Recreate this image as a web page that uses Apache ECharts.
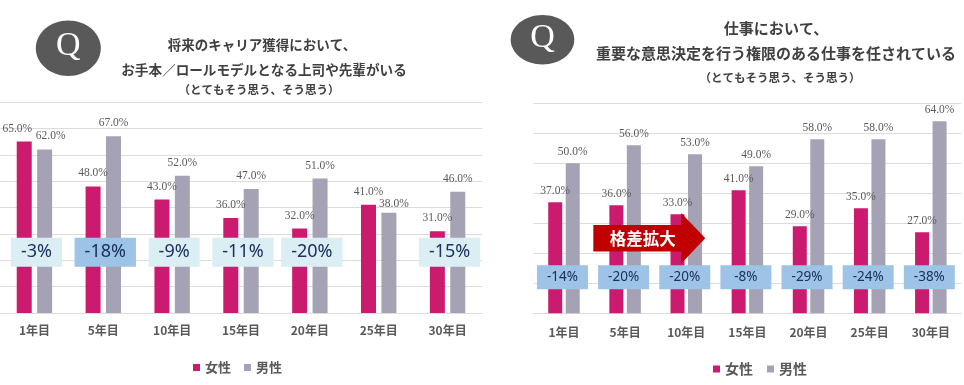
<!DOCTYPE html>
<html><head><meta charset="utf-8">
<script src="https://cdn.jsdelivr.net/npm/echarts@6/dist/echarts.min.js"></script>
<style>html,body{margin:0;padding:0;background:#fff}#c{width:964px;height:385px}</style>
</head><body><div id="c"></div>
<script>
// ---- data ----
const categories = ['1年目','5年目','10年目','15年目','20年目','25年目','30年目'];
const seriesNames = ['女性','男性'];
const leftFemale = [65,48,43,36,32,41,31];
const leftMale   = [62,67,52,47,51,38,46];
const leftGap    = ['-3%','-18%','-9%','-11%','-20%',null,'-15%'];
const rightFemale = [37,36,33,41,29,35,27];
const rightMale   = [50,56,53,49,58,58,64];
const rightGap    = ['-14%','-20%','-20%','-8%','-29%','-24%','-38%'];
const leftTicks  = [0,10,20,30,40,50,60,70,80];
const rightTicks = [0,10,20,30,40,50,60,70];
const leftTitle  = ['将来のキャリア獲得において、','お手本／ロールモデルとなる上司や先輩がいる','（とてもそう思う、そう思う）'];
const rightTitle = ['仕事において、','重要な意思決定を行う権限のある仕事を任されている','（とてもそう思う、そう思う）'];
const arrowText = '格差拡大';
const leftBadgeLevel = 23;
const rightBadgeLevel = 12;
const arrowLevel = 25;

// ---- styles ----
const FEMALE = '#CB1B6F', MALE = '#A6A2B6';
const GRID_LINE = '#DCDCDC';
const CJK = '"Noto Sans CJK JP","Noto Sans",sans-serif';
const SERIF = '"Liberation Serif","DejaVu Serif",serif';
const labelOffsets = { lf: {0:[-7,0]}, lm: {0:[6,0], 5:[5,4]}, rf:{}, rm:{} };

function withOffsets(arr, key){
  return arr.map((v,i)=> labelOffsets[key][i] ? {value:v, label:{offset:labelOffsets[key][i]}} : v);
}
function valueLabel(dist){
  return {show:true, position:'top', distance:dist, color:'#595959',
    fontFamily:SERIF, fontSize:11.5, formatter:p=>p.value.toFixed(1)+'%'};
}
function yAxis(grid, ticks){
  return {type:'value', gridIndex:grid, min:ticks[0], max:ticks[ticks.length-1], interval:ticks[1]-ticks[0],
    axisLabel:{show:false}, axisLine:{show:false}, axisTick:{show:false},
    splitLine:{lineStyle:{color:GRID_LINE, width:1}}};
}
function xAxis(grid, margin){
  return {type:'category', gridIndex:grid, data:categories,
    axisLine:{lineStyle:{color:GRID_LINE}}, axisTick:{show:false},
    axisLabel:{margin:margin, color:'#595959', fontWeight:'bold', fontSize:12, fontFamily:CJK}};
}

const chart = echarts.init(document.getElementById('c'), null, {renderer:'canvas'});
const option = {
  animation:false,
  backgroundColor:'#fff',
  grid:[
    {left:-1, top:102, width:483, bottom:72},
    {left:533.4, top:103.3, width:428, bottom:71.7}
  ],
  xAxis:[xAxis(0,11), xAxis(1,13)],
  yAxis:[yAxis(0,leftTicks), yAxis(1,rightTicks)],
  legend:[
    {data:seriesNames, left:193, top:361, padding:0, icon:'rect', itemWidth:7, itemHeight:7, itemGap:13,
     textStyle:{color:'#595959', fontWeight:'bold', fontSize:13, fontFamily:CJK}},
    {data:seriesNames, left:713, top:362, padding:0, icon:'rect', itemWidth:7, itemHeight:7, itemGap:14,
     textStyle:{color:'#595959', fontWeight:'bold', fontSize:14, fontFamily:CJK}}
  ],
  series:[
    {name:seriesNames[0], type:'bar', xAxisIndex:0, yAxisIndex:0, data:withOffsets(leftFemale,'lf'),
     barWidth:15, barGap:'36%', itemStyle:{color:FEMALE}, label:valueLabel(7)},
    {name:seriesNames[1], type:'bar', xAxisIndex:0, yAxisIndex:0, data:withOffsets(leftMale,'lm'),
     barWidth:15, barGap:'36%', itemStyle:{color:MALE}, label:valueLabel(7)},
    {name:seriesNames[0], type:'bar', xAxisIndex:1, yAxisIndex:1, data:withOffsets(rightFemale,'rf'),
     barWidth:14, barGap:'25%', itemStyle:{color:FEMALE}, label:valueLabel(5)},
    {name:seriesNames[1], type:'bar', xAxisIndex:1, yAxisIndex:1, data:withOffsets(rightMale,'rm'),
     barWidth:14, barGap:'25%', itemStyle:{color:MALE}, label:valueLabel(5)}
  ]
};
chart.setOption(option);

function px(grid, i, v){ return chart.convertToPixel({gridIndex:grid},[i,v]); }
const g = [];
// header: Q marks and titles
function qMark(cx, cy, rx, ry){
  g.push({type:'ellipse', shape:{cx:cx, cy:cy, rx:rx, ry:ry}, style:{fill:'#595959'}, z:10});
  g.push({type:'text', x:cx, y:cy-2, z:11, style:{text:'Q', fill:'#fff', fontFamily:SERIF, fontSize:34,
    align:'center', verticalAlign:'middle'}});
}
qMark(68.3, 48.3, 32.5, 27.7);
qMark(542.5, 39.7, 31.8, 24.7);
function titleLine(t, x, y, size){
  g.push({type:'text', x:x, y:y, z:11, style:{text:t, fill:'#404040', fontFamily:CJK, fontWeight:'bold',
    fontSize:size, align:'center', verticalAlign:'middle'}});
}
titleLine(leftTitle[0], 262, 45, 13.5);
titleLine(leftTitle[1], 264, 70, 13.6);
titleLine(leftTitle[2], 259, 90, 11.5);
titleLine(rightTitle[0], 776, 28.5, 15);
titleLine(rightTitle[1], 776, 53.5, 15);
titleLine(rightTitle[2], 780, 78, 11.5);

// left badges
leftGap.forEach((t,i)=>{
  if(!t) return;
  const p = px(0,i,leftBadgeLevel);
  g.push({type:'text', x:p[0]+2, y:p[1], z:100, style:{text:t, fill:'#1B3160', fontFamily:'"Noto Sans",sans-serif',
    fontSize:18, lineHeight:19, align:'center', verticalAlign:'middle',
    backgroundColor: i===1 ? '#9DC3E6' : '#DAEEF3', padding:[5,10,5,10]}});
});
// right badges
rightGap.forEach((t,i)=>{
  if(!t) return;
  const p = px(1,i,rightBadgeLevel);
  g.push({type:'rect', shape:{x:p[0]-27, y:p[1]-12, width:51, height:24}, style:{fill:'#9DC3E6'}, z:100});
  g.push({type:'text', x:p[0]-1.5, y:p[1], z:101, style:{text:t, fill:'#1B3160', fontFamily:'"Noto Sans",sans-serif',
    fontSize:13.5, align:'center', verticalAlign:'middle'}});
});
// arrow
(function(){
  const c1 = px(1,1,arrowLevel), c2 = px(1,2,arrowLevel);
  const s = c2[0]-c1[0];
  const x0 = c1[0]-0.52*s, xh = c2[0]-5, xt = c2[0]+19, yc = c1[1];
  g.push({type:'polygon', z:110, shape:{points:[[x0,yc-13.3],[xh,yc-13.3],[xh,yc-25.3],[xt,yc],[xh,yc+25.3],[xh,yc+13.3],[x0,yc+13.3]]},
    style:{fill:'#C00000'}});
  g.push({type:'text', x:x0+49.5, y:yc, z:111, style:{text:arrowText, fill:'#fff', fontFamily:CJK, fontWeight:'bold',
    fontSize:16.5, align:'center', verticalAlign:'middle'}});
})();
chart.setOption({graphic:g});
</script>
</body></html>
